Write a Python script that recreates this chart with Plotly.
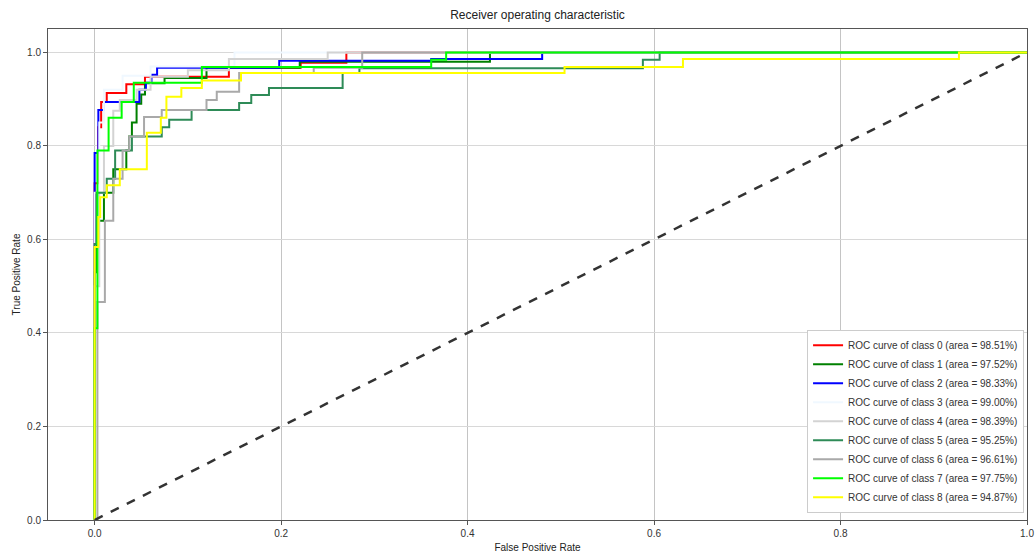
import plotly.graph_objects as go

# ---- data ----
fpr0 = [0, 0, 0.004, 0.004, 0.007, 0.007, 0.013, 0.013, 0.034, 0.034, 0.054, 0.054, 0.144, 0.144, 0.221, 0.221, 0.27, 0.27, 1.0]
tpr0 = [0, 0.72, 0.72, 0.84, 0.84, 0.894, 0.894, 0.913, 0.913, 0.932, 0.932, 0.948, 0.948, 0.967, 0.967, 0.978, 0.978, 1.0, 1.0]

fpr1 = [0, 0, 0.002, 0.002, 0.01, 0.01, 0.02, 0.02, 0.034, 0.034, 0.037, 0.037, 0.04, 0.04, 0.045, 0.045, 0.05, 0.05, 0.054, 0.054, 0.075, 0.075, 0.12, 0.12, 0.22, 0.22, 0.424, 0.424, 1.0]
tpr1 = [0, 0.53, 0.53, 0.64, 0.64, 0.70, 0.70, 0.75, 0.75, 0.79, 0.79, 0.82, 0.82, 0.85, 0.85, 0.89, 0.89, 0.91, 0.91, 0.934, 0.934, 0.945, 0.945, 0.967, 0.967, 0.98, 0.98, 1.0, 1.0]

fpr2 = [0, 0, 0.004, 0.004, 0.01, 0.01, 0.048, 0.048, 0.055, 0.055, 0.061, 0.061, 0.067, 0.067, 0.198, 0.198, 0.361, 0.361, 0.48, 0.48, 1.0]
tpr2 = [0, 0.785, 0.785, 0.877, 0.877, 0.894, 0.894, 0.92, 0.92, 0.935, 0.935, 0.952, 0.952, 0.967, 0.967, 0.982, 0.982, 0.986, 0.986, 1.0, 1.0]

fpr3 = [0, 0, 0.005, 0.005, 0.01, 0.01, 0.03, 0.03, 0.06, 0.06, 0.15, 0.15, 1.0]
tpr3 = [0, 0.70, 0.70, 0.85, 0.85, 0.92, 0.92, 0.95, 0.95, 0.97, 0.97, 1.0, 1.0]

fpr4 = [0, 0, 0.005, 0.005, 0.01, 0.01, 0.02, 0.02, 0.027, 0.027, 0.045, 0.045, 0.06, 0.06, 0.10, 0.10, 0.144, 0.144, 0.25, 0.25, 1.0]
tpr4 = [0, 0.50, 0.50, 0.70, 0.70, 0.80, 0.80, 0.875, 0.875, 0.898, 0.898, 0.92, 0.92, 0.948, 0.948, 0.962, 0.962, 0.986, 0.986, 1.0, 1.0]

fpr5 = [0, 0, 0.002, 0.002, 0.013, 0.013, 0.022, 0.022, 0.04, 0.04, 0.072, 0.072, 0.08, 0.08, 0.104, 0.104, 0.155, 0.155, 0.168, 0.168, 0.187, 0.187, 0.266, 0.266, 0.284, 0.284, 0.588, 0.588, 0.606, 0.606, 1.0]
tpr5 = [0, 0.59, 0.59, 0.70, 0.70, 0.73, 0.73, 0.79, 0.79, 0.82, 0.82, 0.84, 0.84, 0.856, 0.856, 0.877, 0.877, 0.892, 0.892, 0.909, 0.909, 0.924, 0.924, 0.956, 0.956, 0.966, 0.966, 0.984, 0.984, 1.0, 1.0]

fpr6 = [0, 0.003, 0.003, 0.011, 0.011, 0.02, 0.02, 0.03, 0.03, 0.037, 0.037, 0.053, 0.053, 0.072, 0.072, 0.12, 0.12, 0.131, 0.131, 0.155, 0.155, 0.235, 0.235, 0.287, 0.287, 1.0]
tpr6 = [0, 0, 0.466, 0.466, 0.64, 0.64, 0.73, 0.73, 0.79, 0.79, 0.82, 0.82, 0.862, 0.862, 0.877, 0.877, 0.898, 0.898, 0.916, 0.916, 0.956, 0.956, 0.967, 0.967, 1.0, 1.0]

fpr7 = [0, 0, 0.003, 0.003, 0.015, 0.015, 0.029, 0.029, 0.042, 0.042, 0.115, 0.115, 0.361, 0.361, 0.377, 0.377, 1.0]
tpr7 = [0, 0.41, 0.41, 0.79, 0.79, 0.86, 0.86, 0.894, 0.894, 0.935, 0.935, 0.969, 0.969, 0.984, 0.984, 1.0, 1.0]

fpr8 = [0, 0, 0.004, 0.004, 0.006, 0.006, 0.013, 0.013, 0.027, 0.027, 0.056, 0.056, 0.071, 0.071, 0.077, 0.077, 0.093, 0.093, 0.115, 0.115, 0.157, 0.157, 0.504, 0.504, 0.631, 0.631, 0.927, 0.927, 1.0]
tpr8 = [0, 0.584, 0.584, 0.648, 0.648, 0.69, 0.69, 0.716, 0.716, 0.75, 0.75, 0.828, 0.828, 0.86, 0.86, 0.905, 0.905, 0.924, 0.924, 0.94, 0.94, 0.956, 0.956, 0.969, 0.969, 0.986, 0.986, 1.0, 1.0]

class_names = ["0", "1", "2", "3", "4", "5", "6", "7", "8"]
areas = [98.51, 97.52, 98.33, 99.00, 98.39, 95.25, 96.61, 97.75, 94.87]
colors = ["red", "green", "blue", "aliceblue", "lightgray", "seagreen", "darkgray", "lime", "yellow"]

fprs = [fpr0, fpr1, fpr2, fpr3, fpr4, fpr5, fpr6, fpr7, fpr8]
tprs = [tpr0, tpr1, tpr2, tpr3, tpr4, tpr5, tpr6, tpr7, tpr8]

diag_x = [0, 1]
diag_y = [0, 1]

tick_vals = [0.0, 0.2, 0.4, 0.6, 0.8, 1.0]
tick_text = ["0.0", "0.2", "0.4", "0.6", "0.8", "1.0"]

FONT = "Liberation Sans, Arial, sans-serif"

fig = go.Figure()
for name, a, c, fx, ty in zip(class_names, areas, colors, fprs, tprs):
    fig.add_trace(go.Scatter(
        x=fx, y=ty, mode="lines",
        line=dict(color=c, width=2),
        name=f"ROC curve of class {name} (area = {a:.2f}%)",
    ))
fig.add_trace(go.Scatter(
    x=diag_x, y=diag_y, mode="lines",
    line=dict(color="#333333", width=2.5, dash="dash"),
    showlegend=False,
))

axis_common = dict(
    showline=True, linecolor="#555555", linewidth=1, mirror=True,
    ticks="outside", ticklen=4, tickcolor="#555555",
    tickvals=tick_vals, ticktext=tick_text,
    tickfont=dict(family=FONT, size=10, color="#333333"),
    zeroline=False, automargin=False,
)

fig.update_layout(
    width=1035, height=556,
    margin=dict(l=48, r=8, t=29, b=36),
    paper_bgcolor="white", plot_bgcolor="white",
    title=dict(text="Receiver operating characteristic", x=0.5, xref="paper",
               y=1 - 15 / 556, yref="container", yanchor="middle", xanchor="center",
               font=dict(family=FONT, size=12, color="#222222"), automargin=False),
    xaxis=dict(range=[-0.05, 1.0], gridcolor="#c4c4c4", gridwidth=1,
               title=dict(text="False Positive Rate", standoff=5,
                          font=dict(family=FONT, size=10, color="#222222")),
               **axis_common),
    yaxis=dict(range=[0.0, 1.05], gridcolor="#d8d8d8", gridwidth=1,
               title=dict(text="True Positive Rate", standoff=4,
                          font=dict(family=FONT, size=10, color="#222222")),
               **axis_common),
    legend=dict(x=0.997, y=0.015, xanchor="right", yanchor="bottom",
                bgcolor="white", bordercolor="#cccccc", borderwidth=1,
                font=dict(family=FONT, size=10, color="#333333"),
                tracegroupgap=0, itemwidth=30),
    showlegend=True,
)

fig.write_html(
    "out.html",
    config={"displayModeBar": False},
    post_script="document.body.style.margin='0px';document.body.style.overflow='hidden';",
)
